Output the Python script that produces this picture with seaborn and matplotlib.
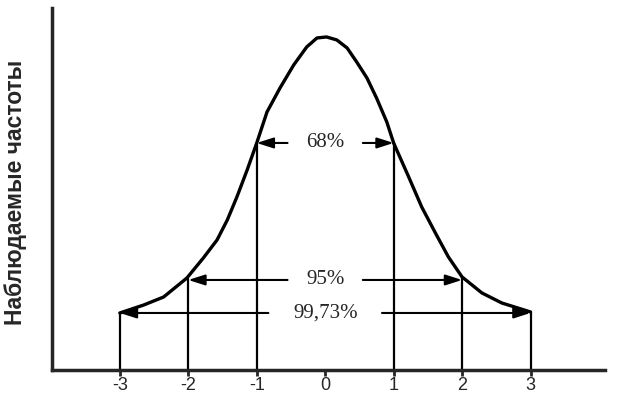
import matplotlib
matplotlib.use("Agg")
import matplotlib.pyplot as plt
import seaborn as sns

# Curve (height in arbitrary units)
curve_x = [-3.0, -2.65, -2.36, -2.02, -1.78, -1.58, -1.43, -1.29, -1.14, -1.0,
           -0.85, -0.66, -0.46, -0.27, -0.12, 0.02, 0.17, 0.32, 0.46, 0.61,
           0.75, 0.90, 1.0, 1.22, 1.41, 1.61, 1.80, 2.0, 2.29, 2.58, 3.0]
curve_y = [0.57, 0.65, 0.73, 0.92, 1.12, 1.30, 1.50, 1.73, 2.00, 2.27,
           2.58, 2.82, 3.05, 3.23, 3.32, 3.33, 3.30, 3.22, 3.08, 2.92,
           2.72, 2.48, 2.27, 1.93, 1.63, 1.37, 1.13, 0.93, 0.77, 0.67, 0.58]

# sigma borders and curve height there
sigma_x = [-3, -2, -1, 1, 2, 3]
sigma_h = [0.57, 0.92, 2.27, 2.27, 0.93, 0.58]

# interval labels: text, level, inner arrow tail, outer arrow tip
band_labels = ["68%", "95%", "99,73%"]
band_level = [2.27, 0.90, 0.57]
band_tail = [0.55, 0.55, 0.83]
band_tip = [1.0, 2.0, 3.0]

tick_pos = [-3, -2, -1, 0, 1, 2, 3]
tick_labels = ["-3", "-2", "-1", "0", "1", "2", "3"]

sns.set_style("ticks")
plt.rcParams['font.family'] = ['Liberation Sans', 'DejaVu Sans']

fig = plt.figure(figsize=(6.35, 4.19), dpi=100)
ax = fig.add_axes([0.082, 0.117, 0.871, 0.864])

sns.lineplot(x=curve_x, y=curve_y, sort=False, color='black', lw=2.4, ax=ax)
ax.vlines(sigma_x, 0, sigma_h, color='black', lw=1.6)

for lab, lev, tail, tip in zip(band_labels, band_level, band_tail, band_tip):
    for sgn in (-1, 1):
        ax.annotate("", xy=(sgn * tip, lev), xytext=(sgn * tail, lev),
                    arrowprops=dict(arrowstyle="-|>,head_length=1.0,head_width=0.32",
                                    color='black', lw=1.5, shrinkA=0, shrinkB=0))
    ax.text(0, lev, lab, ha='center', va='center', fontsize=15,
            family=['Liberation Serif', 'DejaVu Serif'])

ax.set_xlim(-3.99, 4.09)
ax.set_ylim(0, 3.62)
ax.set_xticks(tick_pos)
ax.set_xticklabels(tick_labels, fontsize=13)
ax.set_yticks([])
ax.tick_params(axis='x', direction='out', length=4, width=2, pad=1)
sns.despine(ax=ax)
for s in ('left', 'bottom'):
    ax.spines[s].set_linewidth(2.5)

ax.set_ylabel("Наблюдаемые частоты", fontsize=16.5, fontweight='bold')
ax.yaxis.set_label_coords(-0.045, 0.49)

fig.savefig("out.png", dpi=100)
